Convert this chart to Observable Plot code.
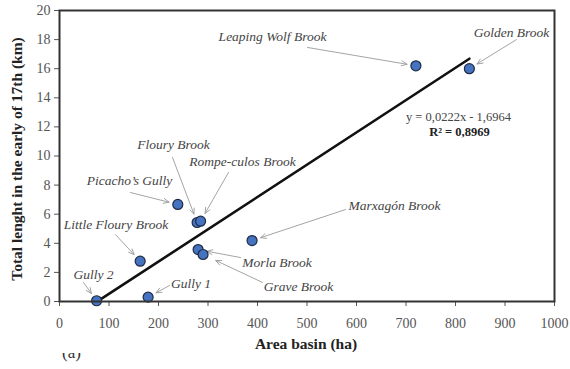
<!DOCTYPE html>
<html>
<head>
<meta charset="utf-8">
<script src="https://cdn.jsdelivr.net/npm/d3@7"></script>
<script src="https://cdn.jsdelivr.net/npm/@observablehq/plot@0.6"></script>
<style>
  body { margin: 0; background: #fff; }
  #chart { position: relative; width: 570px; height: 369px; overflow: hidden; }
  #chart svg, #chart svg text { font-family: "Liberation Serif", "Times New Roman", serif !important; }
  #panel { position: absolute; left: 62px; top: 353px; width: 34px; height: 10px; overflow: hidden;
           font: 17px "Liberation Serif", "Times New Roman", serif; color: #333; }
  #panel span { position: absolute; left: 0; top: -9px; line-height: 17px; white-space: nowrap; }
</style>
</head>
<body>
<div id="chart"><div id="panel"><span>(a)</span></div></div>
<script>
// Streams: basin area (ha) vs. total channel length in the early 17th century (km)
const streams = ["Gully 2", "Gully 1", "Little Floury Brook", "Picacho’s Gully", "Floury Brook",
  "Rompe-culos Brook", "Morla Brook", "Grave Brook", "Marxagón Brook", "Leaping Wolf Brook", "Golden Brook"];
const areaHa   = [75, 179, 163, 239, 278, 285, 280, 290, 389, 720, 828];
const lengthKm = [0.05, 0.3, 2.77, 6.67, 5.43, 5.52, 3.57, 3.23, 4.19, 16.2, 16.0];

// Callout placement, in data units
const labelX     = [68.7, 265.7, 114.1, 141.4, 230.3, 369.7, 439.4, 482.8, 676.8, 430.3, 913];
const labelY     = [1.86, 1.24, 5.29, 8.32, 10.79, 9.62, 2.68, 1.03, 6.60, 18.21, 18.49];
const arrowFromX = [48.5, 222.2, 113.1, 143.4, 228.3, 341.4, 365.7, 410.1, 577.8, 501, 923];
const arrowFromY = [1.31, 1.10, 4.60, 7.49, 9.90, 8.87, 3.02, 1.31, 6.32, 17.46, 18.0];

// Linear trend
const slope = 0.0222;
const intercept = -1.6964;
const r2 = 0.8969;
const equationAt = [806, 12.71];
const r2At = [808, 11.62];

const xTicks = [0, 100, 200, 300, 400, 500, 600, 700, 800, 900, 1000];
const yTicks = [0, 2, 4, 6, 8, 10, 12, 14, 16, 18, 20];

const rows = streams.map((name, i) => ({
  name, area: areaHa[i], length: lengthKm[i],
  lx: labelX[i], ly: labelY[i], ax: arrowFromX[i], ay: arrowFromY[i]
}));

const xMin = d3.min(areaHa), xMax = d3.max(areaHa);
const trend = [xMin, xMax].map(x => ({x, y: slope * x + intercept}));
const comma = v => v.toFixed(4).replace(".", ",");
const eqText = `y = ${comma(slope)}x - ${comma(-intercept)}`;
const r2Text = `R² = ${comma(r2)}`;

const serif = '"Liberation Serif", "Times New Roman", serif';

const plot = Plot.plot({
  width: 570,
  height: 369,
  marginLeft: 59,
  marginRight: 16,
  marginTop: 10,
  marginBottom: 68,
  style: { fontFamily: serif, background: "white", overflow: "visible" },
  x: { domain: [0, 1000] },
  y: { domain: [0, 20] },
  marks: [
    Plot.axisX({ ticks: xTicks, tickFormat: d => String(d), tickSize: 5, tickPadding: 12, fontSize: 14,
                 fill: "#555", stroke: "#555", label: null }),
    Plot.axisY({ ticks: yTicks, tickFormat: d => String(d), tickSize: 5, tickPadding: 4, fontSize: 14,
                 fill: "#555", stroke: "#555", label: null }),
    Plot.arrow(rows.filter(d => d.name !== "Grave Brook"), {
      x1: "ax", y1: "ay", x2: "area", y2: "length",
      stroke: "#9a9a9a", strokeWidth: 0.9, headLength: 10, headAngle: 48, insetEnd: 9
    }),
    Plot.arrow(rows.filter(d => d.name === "Grave Brook"), {
      x1: "ax", y1: "ay", x2: "area", y2: "length",
      stroke: "#9a9a9a", strokeWidth: 0.9, headLength: 10, headAngle: 48, insetEnd: 14
    }),
    Plot.line(trend, { x: "x", y: "y", stroke: "#111", strokeWidth: 2.6 }),
    Plot.dot(rows, { x: "area", y: "length", r: 5, fill: "#4573c0", stroke: "#1e2b45", strokeWidth: 1.2 }),
    Plot.text(rows, {
      x: "lx", y: "ly", text: "name", fontStyle: "italic", fontSize: 13.5, fill: "#444", textAnchor: "middle"
    }),
    Plot.text([eqText], { x: () => equationAt[0], y: () => equationAt[1], text: d => d, fontSize: 12.5, fill: "#444" }),
    Plot.text([r2Text], { x: () => r2At[0], y: () => r2At[1], text: d => d, fontSize: 12.5, fontWeight: "bold", fill: "#222" }),
    Plot.text(["Total lenght in the early of 17th (km)"], {
      frameAnchor: "left", text: d => d, rotate: -90, dx: -42, dy: 3,
      textAnchor: "middle", lineAnchor: "middle",
      fontSize: 15.5, fontWeight: "bold", fill: "#222"
    }),
    Plot.text(["Area basin (ha)"], {
      frameAnchor: "bottom", text: d => d, dy: 43, dx: -1,
      textAnchor: "middle", lineAnchor: "middle",
      fontSize: 15.5, fontWeight: "bold", fill: "#222"
    }),
    Plot.frame({ stroke: "#333", strokeWidth: 2 })
  ]
});

document.getElementById("chart").prepend(plot);
</script>
</body>
</html>
